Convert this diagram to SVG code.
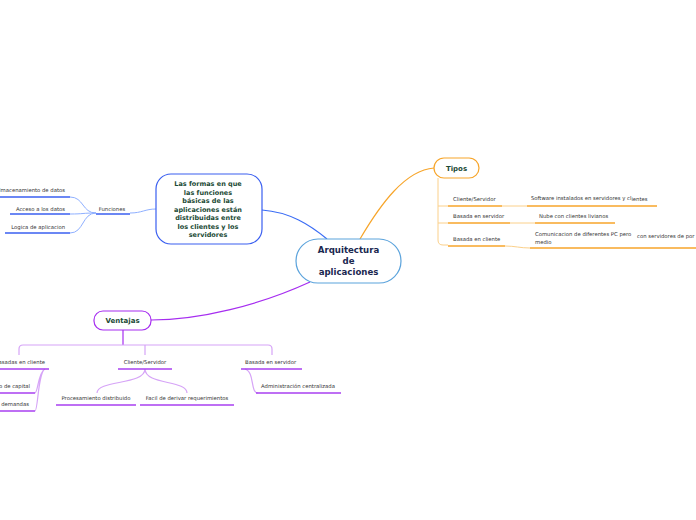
<svg xmlns="http://www.w3.org/2000/svg" width="696" height="520" viewBox="0 0 696 520">
<style>
.t{font-family:"DejaVu Sans",Verdana,sans-serif;font-size:5.3px;fill:#333}
.b{font-family:"DejaVu Sans",Verdana,sans-serif;font-weight:bold;fill:#1b4a35}
.ub{stroke:#3a5ff0;stroke-width:1.6;fill:none}
.uo{stroke:#f7a52a;stroke-width:1.6;fill:none}
.up{stroke:#a83ff0;stroke-width:1.6;fill:none}
.cb{stroke:#8fb0ff;stroke-width:1;fill:none}
.co{stroke:#fbd08a;stroke-width:1;fill:none}
.cp{stroke:#d6a4f7;stroke-width:1.2;fill:none}
</style>
<rect width="696" height="520" fill="#fff"/>
<g id="connectors">
<path d="M327,239 C310,225 290,212 262,210" stroke="#3a6cf5" stroke-width="1.2" fill="none"/>
<path d="M360,239 C380,205 405,170 434,168" stroke="#f7a52a" stroke-width="1.2" fill="none"/>
<path d="M310,282 C260,305 200,320 151,320" stroke="#a62df0" stroke-width="1.2" fill="none"/>
<path d="M156,209 C145,209 142,213 130,213" class="cb"/>
<path d="M96,213 C82,213 84,197 70,197" class="cb"/>
<path d="M96,213 C82,213 84,214 70,214" class="cb"/>
<path d="M96,213 C82,213 84,233 70,233" class="cb"/>
<path d="M438,178 V240 Q438,245 443,245 H448 M438,206 H448 M438,223 H448" class="co"/>
<path d="M502,206 H527 M510,223 H535 M505,246 C515,246 520,248 530,248" class="co"/>
<path d="M123,330 V345" stroke="#a62df0" stroke-width="1.2" fill="none"/>
<path d="M19,355 V349 Q19,345 23,345 H268 Q272,345 272,349 V355 M145,345 V355" class="cp"/>
<path d="M45,369 C38,372 38,393 35,393 M45,369 C38,372 38,411 35,411" class="cp"/>
<path d="M145,369 C145,385 97,380 97,393 M145,369 C145,385 187,380 187,393" class="cp"/>
<path d="M245,369 C255,372 250,393 258,393" class="cp"/>
</g>
<g id="central">
<rect x="296" y="239" width="105" height="44" rx="22" fill="#fff" stroke="#5ba3dc" stroke-width="1.2"/>
<text class="b" style="fill:#1a2850" font-size="8.6" text-anchor="middle"><tspan x="348.5" y="253">Arquitectura</tspan><tspan x="348.5" y="264">de</tspan><tspan x="348.5" y="275">aplicaciones</tspan></text>
</g>
<g id="formas">
<rect x="156" y="174" width="106" height="70" rx="15" fill="#fff" stroke="#3a5ff0" stroke-width="1.2"/>
<text class="b" font-size="6.5" text-anchor="middle"><tspan x="208" y="186">Las formas en que</tspan><tspan x="208" y="194.5">las funciones</tspan><tspan x="208" y="203">básicas de las</tspan><tspan x="208" y="211.5">aplicaciones están</tspan><tspan x="208" y="220">distribuidas entre</tspan><tspan x="208" y="228.5">los clientes y los</tspan><tspan x="208" y="237">servidores</tspan></text>
</g>
<g id="funciones">
<text class="t" x="112" y="211" text-anchor="middle">Funciones</text>
<path d="M96,214 H130" class="ub"/>
</g>
<g id="almacenamiento">
<text class="t" x="65" y="192" text-anchor="end">Almacenamiento de datos</text>
<path d="M0,197 H70" class="ub"/>
</g>
<g id="acceso">
<text class="t" x="65" y="211" text-anchor="end">Acceso a los datos</text>
<path d="M10,214 H70" class="ub"/>
</g>
<g id="logica">
<text class="t" x="65" y="229" text-anchor="end">Logica de aplicacion</text>
<path d="M5,233 H70" class="ub"/>
</g>
<g id="tipos">
<rect x="434" y="158" width="45" height="20" rx="10" fill="#fff" stroke="#f7a52a" stroke-width="1.2"/>
<text class="b" font-size="7" x="456.5" y="170.5" text-anchor="middle">Tipos</text>
</g>
<g id="t-cs">
<text class="t" x="453" y="201">Cliente/Servidor</text>
<path d="M448,206 H502" class="uo"/>
</g>
<g id="t-bs">
<text class="t" x="453" y="218">Basada en servidor</text>
<path d="M448,223 H510" class="uo"/>
</g>
<g id="t-bc">
<text class="t" x="453" y="241">Basada en cliente</text>
<path d="M448,246 H505" class="uo"/>
</g>
<g id="t-software">
<text class="t" x="531" y="200">Software instalados en servidores y cl<tspan dy="1">ientes</tspan></text>
<path d="M527,206 H657" class="uo"/>
</g>
<g id="t-nube">
<text class="t" x="539" y="218">Nube con clientes livianos</text>
<path d="M535,223 H615" class="uo"/>
</g>
<g id="t-comunicacion">
<text class="t"><tspan x="535" y="236">Comunicacion de diferentes PC pero</tspan><tspan x="637" y="238">con servidores de por</tspan><tspan x="535" y="244">medio</tspan></text>
<path d="M530,248 H696" class="uo"/>
</g>
<g id="ventajas">
<rect x="94" y="311" width="57" height="19" rx="9" fill="#fff" stroke="#a62df0" stroke-width="1.2"/>
<text class="b" font-size="7" x="122.5" y="323" text-anchor="middle">Ventajas</text>
</g>
<g id="v-bc">
<text class="t" x="45" y="364" text-anchor="end">Basadas en cliente</text>
<path d="M0,369 H49" class="up"/>
</g>
<g id="v-capital">
<text class="t" x="30" y="388" text-anchor="end">o de capital</text>
<path d="M0,393 H35" class="up"/>
</g>
<g id="v-demandas">
<text class="t" x="29" y="406" text-anchor="end">demandas</text>
<path d="M0,411 H35" class="up"/>
</g>
<g id="v-cs">
<text class="t" x="145" y="364" text-anchor="middle">Cliente/Servidor</text>
<path d="M118,369 H172" class="up"/>
</g>
<g id="v-bs">
<text class="t" x="245" y="364">Basada en servidor</text>
<path d="M241,369 H302" class="up"/>
</g>
<g id="v-proc">
<text class="t" x="96" y="400" text-anchor="middle">Procesamiento distribuido</text>
<path d="M56,405 H136" class="up"/>
</g>
<g id="v-facil">
<text class="t" x="187" y="400" text-anchor="middle">Facil de derivar requerimientos</text>
<path d="M140,405 H234" class="up"/>
</g>
<g id="v-admin">
<text class="t" x="298" y="388" text-anchor="middle">Administración centralizada</text>
<path d="M256,393 H341" class="up"/>
</g>
</svg>
